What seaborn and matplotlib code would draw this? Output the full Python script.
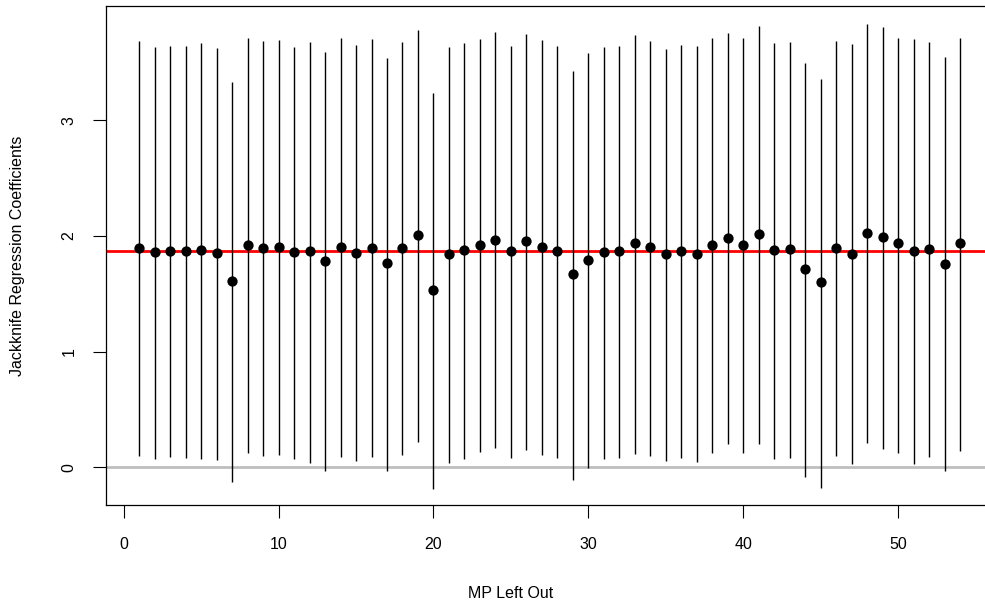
import numpy as np
import pandas as pd
import matplotlib
matplotlib.use("Agg")
import matplotlib.pyplot as plt
import seaborn as sns

# ---- data ----
mp_left_out = list(range(1, 55))
estimate = [1.897, 1.862, 1.874, 1.874, 1.880, 1.854, 1.613, 1.923, 1.897, 1.906,
            1.862, 1.874, 1.784, 1.906, 1.857, 1.897, 1.767, 1.897, 2.010, 1.535,
            1.845, 1.880, 1.923, 1.967, 1.874, 1.958, 1.906, 1.874, 1.671, 1.796,
            1.865, 1.874, 1.935, 1.906, 1.845, 1.874, 1.845, 1.923, 1.984, 1.923,
            2.019, 1.880, 1.889, 1.714, 1.601, 1.897, 1.845, 2.028, 1.993, 1.935,
            1.874, 1.889, 1.758, 1.935]
upper = [3.683, 3.634, 3.645, 3.643, 3.666, 3.622, 3.335, 3.709, 3.686, 3.692,
         3.631, 3.680, 3.587, 3.715, 3.648, 3.700, 3.541, 3.674, 3.779, 3.232,
         3.631, 3.669, 3.706, 3.761, 3.643, 3.747, 3.695, 3.643, 3.425, 3.582,
         3.634, 3.643, 3.735, 3.689, 3.619, 3.648, 3.640, 3.709, 3.756, 3.712,
         3.819, 3.669, 3.674, 3.492, 3.358, 3.689, 3.660, 3.831, 3.808, 3.715,
         3.706, 3.680, 3.544, 3.709]
lower = [0.094, 0.071, 0.085, 0.080, 0.074, 0.062, -0.129, 0.126, 0.097, 0.103,
         0.068, 0.039, -0.036, 0.085, 0.051, 0.085, -0.030, 0.109, 0.216, -0.184,
         0.036, 0.074, 0.132, 0.167, 0.080, 0.149, 0.106, 0.080, -0.106, -0.010,
         0.071, 0.080, 0.112, 0.100, 0.057, 0.083, 0.042, 0.120, 0.204, 0.123,
         0.198, 0.068, 0.080, -0.083, -0.178, 0.094, 0.025, 0.207, 0.155, 0.126,
         0.025, 0.085, -0.036, 0.143]
full_estimate = 1.870
zero_ref = 0.0
x_ticks = [0, 10, 20, 30, 40, 50]
y_ticks = [0, 1, 2, 3]

df = pd.DataFrame({"mp": mp_left_out, "est": estimate, "lo": lower, "hi": upper})

sns.set_theme(style="white")
plt.rcParams["font.family"] = ["Liberation Sans", "DejaVu Sans"]

W, H = 985, 610
fig = plt.figure(figsize=(W / 100, H / 100), dpi=100)
ax_l, ax_r, ax_t, ax_b = 106.3, 993.0, 6.3, 505.3
ax = fig.add_axes([ax_l / W, 1 - ax_b / H, (ax_r - ax_l) / W, (ax_b - ax_t) / H])

ax.axhline(zero_ref, color="#bebebe", lw=2.0, zorder=1)
ax.axhline(full_estimate, color="#ff0000", lw=2.0, zorder=1.5)
ax.vlines(df["mp"], df["lo"], df["hi"], color="black", lw=1.0, zorder=2)
sns.scatterplot(data=df, x="mp", y="est", ax=ax, color="black", s=55,
                edgecolor="black", linewidth=0, zorder=3, legend=False)

ax.set_xlim(-1.12, 56.12)
ax.set_ylim(-0.329, 3.986)
ax.set_xticks(x_ticks)
ax.set_yticks(y_ticks)
ax.set_xticklabels([str(v) for v in x_ticks])
ax.set_yticklabels([str(v) for v in y_ticks], rotation=90, va="center")

for s in ax.spines.values():
    s.set_visible(True)
    s.set_color("black")
    s.set_linewidth(0.9)

ax.tick_params(axis="both", direction="out", length=9.2, width=0.8, color="black",
               labelsize=11.5, labelcolor="black")
ax.tick_params(axis="x", pad=13.4, bottom=True)
ax.tick_params(axis="y", pad=12.3, left=True)

ax.set_xlabel("MP Left Out", fontsize=11.5, color="black")
ax.set_ylabel("Jackknife Regression Coefficients", fontsize=11.5, color="black")
ax.xaxis.set_label_coords((510.5 - ax_l) / (ax_r - ax_l), (ax_b - 593) / (ax_b - ax_t))
ax.xaxis.label.set_va("center")
ax.yaxis.set_label_coords((18 - ax_l) / (ax_r - ax_l), 0.5)
ax.yaxis.label.set_va("center")

fig.savefig("out.png", dpi=100)
